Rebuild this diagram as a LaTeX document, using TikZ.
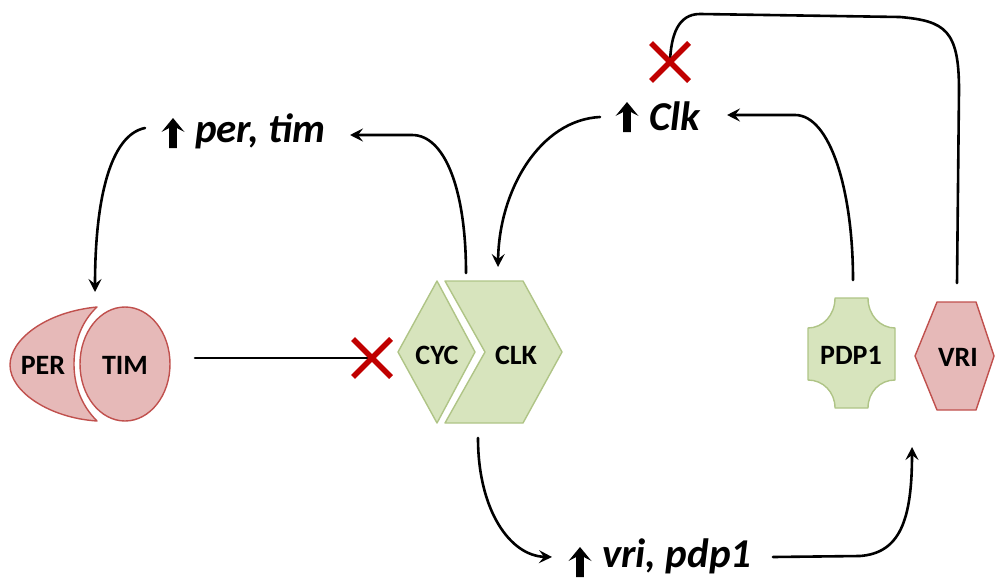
\documentclass[tikz,border=0pt]{standalone}
\usepackage{fontspec}
\setmainfont{Carlito}
\usetikzlibrary{arrows.meta}
\definecolor{pinkfill}{HTML}{E6B9B8}
\definecolor{pinkline}{HTML}{C0504D}
\definecolor{greenfill}{HTML}{D7E4BD}
\definecolor{greenline}{HTML}{AFC486}
\definecolor{xred}{HTML}{C00000}
\tikzset{
  conn/.style={line width=2.6pt, black, line cap=round,
    -{Stealth[length=13pt,width=13pt,inset=5pt]}},
  inhib/.style={line width=2.6pt, black, line cap=round},
  redx/.style={line width=5.5pt, xred},
  pinkshape/.style={fill=pinkfill, draw=pinkline, line width=1.4pt, line join=round},
  greenshape/.style={fill=greenfill, draw=greenline, line width=1.4pt, line join=round},
  protein/.style={font=\fontsize{28}{30}\selectfont\bfseries, inner sep=0pt},
  gene/.style={font=\fontsize{41}{44}\selectfont\bfseries\itshape, inner sep=0pt, anchor=base west},
  uparr/.pic={\fill[black] (0,-15) -- (11.5,-1) -- (3.8,-5) -- (3.8,15) -- (-3.8,15)
      -- (-3.8,-5) -- (-11.5,-1) -- cycle;},
  blockx/.pic={\draw[redx] (-19,-19) -- (19,19) (-19,19) -- (19,-19);}
}
\begin{document}
\begin{tikzpicture}[x=1pt,y=-1pt]
\useasboundingbox (0,0) rectangle (995,578);

% PER / TIM heterodimer
\path[pinkshape] (97,307) .. controls (45,312) and (10,340) .. (10,365)
  .. controls (10,392) and (50,418) .. (97,421)
  .. controls (81,405) and (74,385) .. (74,364)
  .. controls (74,343) and (81,322) .. (97,307) -- cycle;
\path[pinkshape] (125,364) ellipse [x radius=45, y radius=57];
\node[protein] (per) at (43,365) {PER};
\node[protein] (tim) at (125,365) {TIM};

% CYC / CLK complex
\path[greenshape] (398,352) -- (437,281) -- (475,352) -- (437,423) -- cycle;
\path[greenshape] (445,281) -- (523,281) -- (562,352) -- (523,423) -- (445,423)
  -- (485,352) -- cycle;
\node[protein] (cyc) at (437,355) {CYC};
\node[protein] (clk) at (516,355) {CLK};

% PDP1 (concave corners)
\path[greenshape] (835,298) -- (868,298)
  .. controls (868,315) and (880,328) .. (895,328) -- (895,380)
  .. controls (880,380) and (868,392) .. (868,408) -- (835,408)
  .. controls (835,392) and (823,380) .. (808,380) -- (808,328)
  .. controls (823,328) and (835,315) .. (835,298) -- cycle;
\node[protein] (pdp) at (851,355) {PDP1};

% VRI hexagon
\path[pinkshape] (915,356) -- (937,302) -- (976,302) -- (994,356) -- (976,410)
  -- (937,410) -- cycle;
\node[protein] (vri) at (958,357) {VRI};

% gene labels
\pic at (173,133) {uparr};
\node[gene] (pertim) at (195,142) {per, tim};
\pic at (627,117) {uparr};
\node[gene] (clkgene) at (649,130) {Clk};
\pic at (580,562) {uparr};
\node[gene] (vripdp) at (602,567) {vri, pdp1};

% anchor points of the connectors
\coordinate (pertimOut) at (145,128);
\coordinate (dimerTop) at (95,292);
\coordinate (dimerOut) at (195,358);
\coordinate (xLeft) at (372,358);
\coordinate (cycTop) at (466,273);
\coordinate (pertimIn) at (350,135);
\coordinate (clkgeneOut) at (600,117);
\coordinate (clkTop) at (498,267);
\coordinate (pdpTop) at (853,280);
\coordinate (clkgeneIn) at (727,115);
\coordinate (vriTop) at (957,283);
\coordinate (xTop) at (670,62);
\coordinate (clkBottom) at (478,438);
\coordinate (vripdpIn) at (552,557);
\coordinate (vripdpOut) at (773,557);
\coordinate (vriBottom) at (912,447);

% connectors
\draw[conn] (pertimOut) .. controls (110,135) and (95,200) .. (dimerTop);
\draw[inhib] (dimerOut) -- (xLeft);
\draw[conn] (cycTop) .. controls (466,190) and (445,135) .. (412,135) -- (pertimIn);
\draw[conn] (clkgeneOut) .. controls (540,120) and (499,190) .. (clkTop);
\draw[conn] (pdpTop) .. controls (853,190) and (830,115) .. (795,115) -- (clkgeneIn);
\draw[inhib] (vriTop) -- (959,90) .. controls (959,30) and (945,21) .. (900,17)
  -- (700,14) .. controls (678,14) and (671,35) .. (xTop);
\draw[conn] (clkBottom) .. controls (478,510) and (510,556) .. (vripdpIn);
\draw[conn] (vripdpOut) -- (860,556) .. controls (900,553) and (912,520) .. (vriBottom);

% inhibition marks
\pic at (xLeft) {blockx};
\pic at (xTop) {blockx};
\end{tikzpicture}
\end{document}
